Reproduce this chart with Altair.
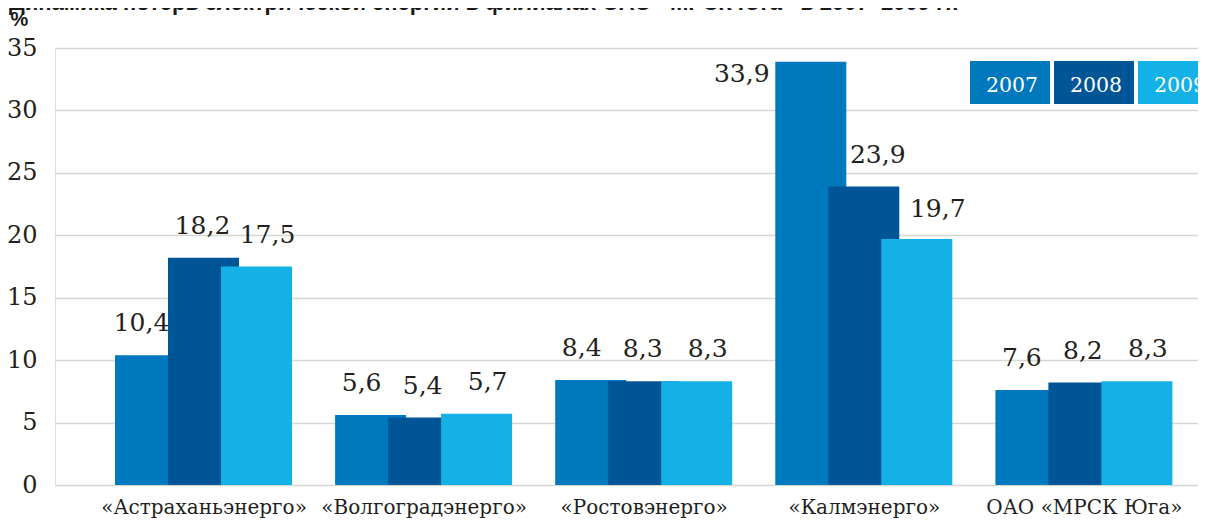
import altair as alt
import pandas as pd

# ---- data ----
categories = ["«Астраханьэнерго»", "«Волгоградэнерго»", "«Ростовэнерго»", "«Калмэнерго»", "ОАО «МРСК Юга»"]
years = ["2007", "2008", "2009"]
v2007 = [10.4, 5.6, 8.4, 33.9, 7.6]
v2008 = [18.2, 5.4, 8.3, 23.9, 8.2]
v2009 = [17.5, 5.7, 8.3, 19.7, 8.3]
y_ticks = [0, 5, 10, 15, 20, 25, 30, 35]
title_text = "Динамика потерь электрической энергии в филиалах ОАО «МРСК Юга» в 2007–2009 гг."
unit_text = "%"

# ---- styles ----
colors = {"2007": "#0078be", "2008": "#005596", "2009": "#13b1e6"}
bar_offsets = {"2007": -53, "2008": 0, "2009": 53}
label_dx = {"2007": -62, "2008": -1, "2009": 64}
kalm_label = {"2007": (-122, 20), "2008": (14, -24), "2009": (74, -22)}
TEXT = "#231f20"
GRID = "#d5d8d0"
SERIF = "DejaVu Serif"

rows = []
for y, vals in zip(years, [v2007, v2008, v2009]):
    for c, v in zip(categories, vals):
        rows.append({"cat": c, "year": y, "value": v, "label": f"{v:.1f}".replace(".", ",")})
df = pd.DataFrame(rows)

x_enc = alt.X(
    "cat:N", sort=categories,
    scale=alt.Scale(type="point", padding=0.5966, align=0.5655),
    axis=alt.Axis(title=None, labelAngle=0, domain=False, ticks=False, grid=False,
                  labelFont=SERIF, labelFontSize=20, labelColor=TEXT, labelLimit=0,
                  labelBaseline="alphabetic", labelPadding=28),
)
y_enc = alt.Y(
    "value:Q", scale=alt.Scale(domain=[0, 35], nice=False, zero=True),
    axis=alt.Axis(values=y_ticks, grid=True, gridColor=GRID, gridWidth=1.5,
                  domain=False, ticks=False, labelPadding=18, labelFont=SERIF,
                  labelFontSize=24, labelColor=TEXT,
                  title=unit_text, titleAngle=0, titleX=-45, titleY=-39,
                  titleAlign="left", titleBaseline="top", titleFont="Liberation Sans",
                  titleFontWeight="bold", titleFontSize=20, titleColor="#1a1a1a"),
)

base = alt.Chart(df)
layers = []
for y in years:
    layers.append(
        base.transform_filter(alt.datum.year == y)
        .mark_bar(size=71, xOffset=bar_offsets[y], color=colors[y])
        .encode(x=x_enc, y=y_enc)
    )
for y in years:
    layers.append(
        base.transform_filter((alt.datum.year == y) & (alt.datum.cat != categories[3]))
        .mark_text(dx=label_dx[y], dy=-24, baseline="alphabetic", align="center",
                   font=SERIF, fontSize=25, color=TEXT)
        .encode(x=x_enc, y=y_enc, text="label:N")
    )
    dx, dy = kalm_label[y]
    layers.append(
        base.transform_filter((alt.datum.year == y) & (alt.datum.cat == categories[3]))
        .mark_text(dx=dx, dy=dy, baseline="alphabetic", align="center",
                   font=SERIF, fontSize=25, color=TEXT)
        .encode(x=x_enc, y=y_enc, text="label:N")
    )

# legend boxes (top right)
leg = pd.DataFrame({"year": years})
legend_base = alt.Chart(leg).transform_window(idx="row_number()").transform_calculate(
    lx="915 + (datum.idx - 1) * 84", lx2="915 + (datum.idx - 1) * 84 + 80",
    tx="915 + (datum.idx - 1) * 84 + 42"
)
legend_rect = legend_base.mark_rect().encode(
    x=alt.X("lx:Q", scale=None), x2="lx2:Q",
    y=alt.value(13), y2=alt.value(56),
    color=alt.Color("year:N", scale=alt.Scale(domain=years, range=[colors[y] for y in years]), legend=None),
)
legend_text = legend_base.mark_text(baseline="alphabetic", align="center", font=SERIF,
                                    fontSize=20.5, color="white").encode(
    x=alt.X("tx:Q", scale=None), y=alt.value(44), text="year:N"
)

title_mark = alt.Chart(pd.DataFrame({"t": [title_text]})).mark_text(
    align="left", baseline="alphabetic", font="Liberation Sans", fontWeight="bold",
    fontSize=22, color="#1a1a1a"
).encode(x=alt.value(-46), y=alt.value(-38), text="t:N")

chart = alt.layer(*layers, legend_rect, legend_text, title_mark).properties(
    width=1143, height=437,
    autosize=alt.AutoSizeParams(type="none"),
    padding={"left": 47, "top": 40, "right": 0, "bottom": 35},
).configure_view(stroke=None).configure(background="white")

chart.save("out.html", embed_options={"renderer": "svg", "actions": False})
